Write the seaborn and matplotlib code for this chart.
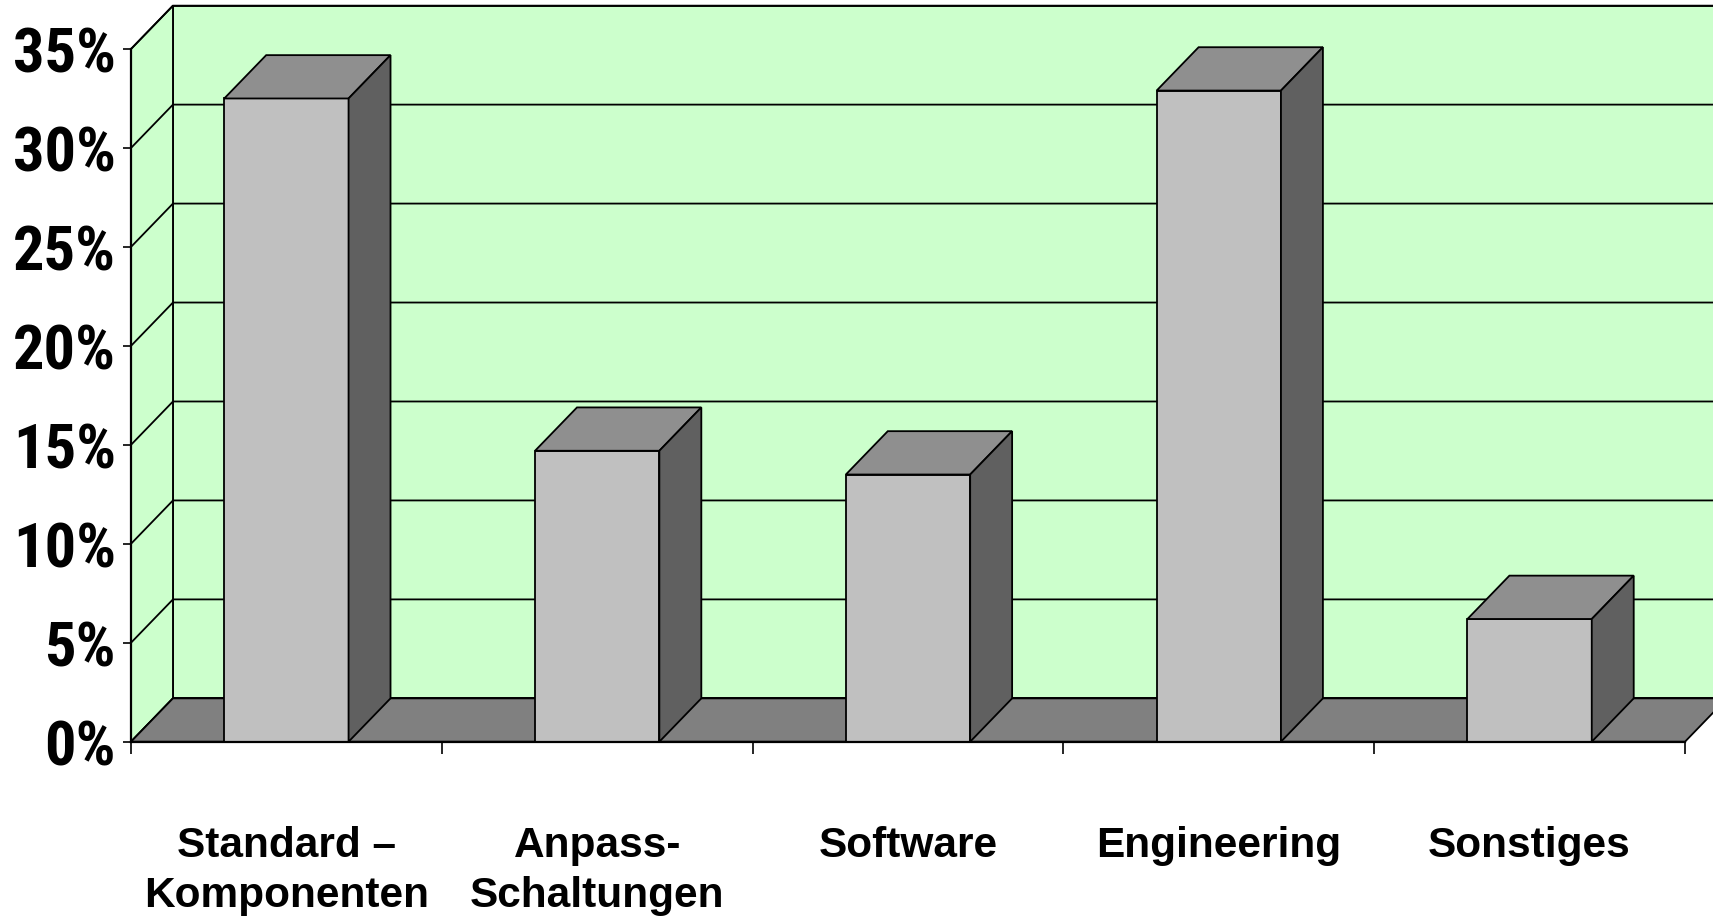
import matplotlib
matplotlib.use("Agg")
import matplotlib.pyplot as plt
import seaborn as sns
import pandas as pd
from matplotlib.patches import Polygon
from matplotlib import font_manager
from matplotlib.font_manager import FontProperties

# ---- data ----
categories = ["Standard –\nKomponenten", "Anpass-\nSchaltungen", "Software", "Engineering", "Sonstiges"]
values = [32.5, 14.7, 13.5, 32.9, 6.2]
y_ticks = [0, 5, 10, 15, 20, 25, 30, 35]
y_tick_labels = [f"{t}%" for t in y_ticks]

sns.set_theme(style="white")
plt.rcParams['font.family'] = ['Liberation Sans', 'DejaVu Sans']


def find_condensed_bold():
    prefs = ["liberation sans narrow", "arial narrow", "roboto condensed", "open sans condensed",
             "noto sans", "dejavu sans", "lato", "inter"]
    cands = []
    for f in font_manager.fontManager.ttflist:
        n = f.name.lower()
        fn = f.fname.lower()
        if "[" in fn or "mono" in n or "serif" in n and "sans" not in n:
            continue
        cond = ("narrow" in n or "condensed" in n or "narrow" in fn or "condensed" in fn
                or str(f.stretch) in ("condensed", "semi-condensed", "extra-condensed", "ultra-condensed"))
        if "semicondensed" in fn or "semi-condensed" in str(f.stretch):
            continue
        w = f.weight
        try:
            wnum = int(w)
        except (TypeError, ValueError):
            wnum = 700 if str(w).lower() in ("bold", "heavy", "black", "extra bold", "demibold") else 400
        bold = wnum >= 600 or "bold" in fn.split("/")[-1]
        if "italic" in fn or "oblique" in fn or str(f.style) != "normal":
            continue
        if cond and bold and wnum < 800:
            rank = len(prefs)
            for i, p in enumerate(prefs):
                if p in n:
                    rank = i
                    break
            cands.append((rank, f.fname))
    cands.sort()
    return cands[0][1] if cands else None


cond_path = find_condensed_bold()

W, H = 1713, 920
fig = plt.figure(figsize=(W / 100, H / 100), dpi=100)
fig.patch.set_facecolor("white")
ax = fig.add_axes([131 / W, 1 - 742.7 / H, 1554 / W, 692.7 / H])

DX, DY = 0.135, 2.19
XMIN, XMAX = -0.5, len(categories) - 0.5
YMAX = 35
GREEN = "#CCFFCC"
FRONT = "#C0C0C0"
TOP = "#8F8F8F"
SIDE = "#606060"
FLOOR = "#808080"
LW = 1.3

df = pd.DataFrame({"cat": categories, "val": values})
sns.barplot(data=df, x="cat", y="val", width=0.4, color=FRONT, saturation=1,
            edgecolor="black", linewidth=LW, ax=ax, zorder=5)
bars = list(ax.patches)

ax.set_xlim(XMIN, XMAX)
ax.set_ylim(0, YMAX)
ax.set_facecolor("none")

# back wall
ax.add_patch(Polygon([(XMIN + DX, DY), (XMAX + DX, DY), (XMAX + DX, YMAX + DY), (XMIN + DX, YMAX + DY)],
                     closed=True, fc=GREEN, ec="black", lw=LW, clip_on=False, zorder=0))
# left wall
ax.add_patch(Polygon([(XMIN, 0), (XMIN + DX, DY), (XMIN + DX, YMAX + DY), (XMIN, YMAX)],
                     closed=True, fc=GREEN, ec="black", lw=LW, clip_on=False, zorder=0.5))
# gridlines
for t in y_ticks:
    ax.plot([XMIN, XMIN + DX, XMAX + DX], [t, t + DY, t + DY], color="black", lw=LW,
            clip_on=False, zorder=1, solid_joinstyle="miter")
# floor
ax.add_patch(Polygon([(XMIN, 0), (XMAX, 0), (XMAX + DX, DY), (XMIN + DX, DY)],
                     closed=True, fc=FLOOR, ec="black", lw=LW, clip_on=False, zorder=2))

# 3D faces of bars
for p in bars:
    x0 = p.get_x()
    x1 = x0 + p.get_width()
    h = p.get_height()
    ax.add_patch(Polygon([(x0, h), (x1, h), (x1 + DX, h + DY), (x0 + DX, h + DY)],
                         closed=True, fc=TOP, ec="black", lw=LW, clip_on=False, zorder=5))
    ax.add_patch(Polygon([(x1, 0), (x1 + DX, DY), (x1 + DX, h + DY), (x1, h)],
                         closed=True, fc=SIDE, ec="black", lw=LW, clip_on=False, zorder=5))

# spines
for s in ["top", "right"]:
    ax.spines[s].set_visible(False)
for s in ["left", "bottom"]:
    ax.spines[s].set_visible(True)
    ax.spines[s].set_color("black")
    ax.spines[s].set_linewidth(1.6)
    ax.spines[s].set_zorder(6)

ax.set_yticks(y_ticks, y_tick_labels)
if cond_path:
    ytick_fp = FontProperties(fname=cond_path, size=44)
else:
    ytick_fp = FontProperties(family="Liberation Sans", weight="bold", size=36)
for lab in ax.get_yticklabels():
    lab.set_fontproperties(ytick_fp)
ax.tick_params(axis="y", left=True, length=5.8, width=1.2, direction="out", pad=5, colors="black")

# fit the tick label width to the reference
renderer = fig.canvas.get_renderer()
lab35 = ax.get_yticklabels()[-1]
wpx = lab35.get_window_extent(renderer).width
if wpx > 0:
    new_size = ytick_fp.get_size_in_points() * 103.0 / wpx
    ytick_fp.set_size(new_size)
    for lab in ax.get_yticklabels():
        lab.set_fontproperties(ytick_fp)

ax.set_xticks(range(len(categories)), categories)
ax.set_xticks([i - 0.5 for i in range(len(categories) + 1)], minor=True)
ax.tick_params(axis="x", which="major", length=0, pad=60, labelsize=30.5)
ax.tick_params(axis="x", which="minor", bottom=True, length=8.6, width=1.2, direction="out", color="black")
for lab in ax.get_xticklabels():
    lab.set_fontweight("bold")
    lab.set_fontfamily(['Liberation Sans', 'DejaVu Sans'])
    lab.set_linespacing(1.33)
    lab.set_color("black")

ax.set_xlabel("")
ax.set_ylabel("")

fig.savefig("out.png", dpi=100, facecolor="white")
